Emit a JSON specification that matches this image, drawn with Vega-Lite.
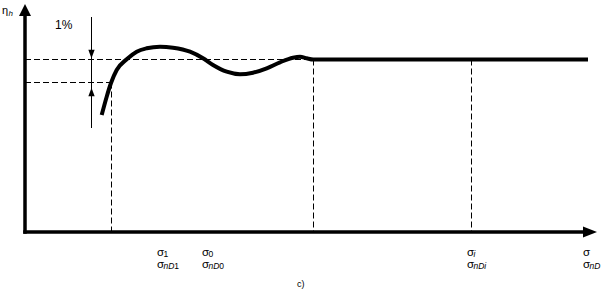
{
  "$schema": "https://vega.github.io/schema/vega-lite/v6.json",
  "width": 606,
  "height": 291,
  "autosize": {"type": "fit", "contains": "padding"},
  "padding": 0,
  "background": "white",
  "config": {"view": {"stroke": null}, "mark": {"color": "black"}, "text": {"font": "Liberation Sans", "fill": "black", "align": "left", "baseline": "alphabetic"}},
  "datasets": {
    "curve": [
      {"x": 101.7, "v": 176}, {"x": 106.7, "v": 194.3}, {"x": 111, "v": 208}, {"x": 116.7, "v": 221},
      {"x": 126.7, "v": 231.7}, {"x": 136.7, "v": 239.3}, {"x": 146.7, "v": 242.7}, {"x": 160, "v": 244.3},
      {"x": 173, "v": 243.3}, {"x": 190, "v": 239.3}, {"x": 203, "v": 232.7}, {"x": 213, "v": 226},
      {"x": 226.7, "v": 219.3}, {"x": 240, "v": 216.7}, {"x": 253, "v": 218.3}, {"x": 266.7, "v": 222.7},
      {"x": 280, "v": 228.7}, {"x": 293, "v": 233.3}, {"x": 300, "v": 234.3}, {"x": 306.7, "v": 232.7},
      {"x": 313.3, "v": 231.5}, {"x": 588, "v": 231.5}
    ],
    "axes": [
      {"x": 25, "v": 59, "x2": 25, "v2": 276},
      {"x": 25, "v": 59, "x2": 584, "v2": 59}
    ],
    "dashed": [
      {"x": 25, "v": 231.5, "x2": 313.5, "v2": 231.5},
      {"x": 25, "v": 208.5, "x2": 111.5, "v2": 208.5},
      {"x": 111.5, "v": 208.5, "x2": 111.5, "v2": 59},
      {"x": 313.5, "v": 231.5, "x2": 313.5, "v2": 59},
      {"x": 471.5, "v": 231.5, "x2": 471.5, "v2": 59}
    ],
    "labels": [
      {"x": 157, "v": 35, "ital": "", "dig": "1", "row": 1},
      {"x": 157, "v": 23.5, "ital": "nD", "dig": "1", "row": 2},
      {"x": 202, "v": 35, "ital": "", "dig": "0", "row": 1},
      {"x": 202, "v": 23.5, "ital": "nD", "dig": "0", "row": 2},
      {"x": 467, "v": 35, "ital": "i", "dig": "", "row": 1},
      {"x": 467, "v": 23.5, "ital": "nDi", "dig": "", "row": 2},
      {"x": 583, "v": 35, "ital": "", "dig": "", "row": 1},
      {"x": 583, "v": 23.5, "ital": "nD", "dig": "", "row": 2}
    ]
  },
  "encoding": {
    "x": {"field": "x", "type": "quantitative", "scale": {"domain": [0, 606], "nice": false, "zero": false}, "axis": null},
    "y": {"field": "v", "type": "quantitative", "scale": {"domain": [0, 291], "nice": false, "zero": false}, "axis": null}
  },
  "layer": [
    {
      "data": {"name": "dashed"},
      "mark": {"type": "rule", "color": "black", "strokeWidth": 1, "strokeDash": [6, 3]},
      "encoding": {"x2": {"field": "x2"}, "y2": {"field": "v2"}}
    },
    {
      "data": {"name": "axes"},
      "mark": {"type": "rule", "color": "black", "strokeWidth": 3.5, "strokeCap": "square"},
      "encoding": {"x2": {"field": "x2"}, "y2": {"field": "v2"}}
    },
    {
      "data": {"values": [{"x": 91.5, "v": 274, "x2": 91.5, "v2": 163}]},
      "mark": {"type": "rule", "color": "black", "strokeWidth": 1},
      "encoding": {"x2": {"field": "x2"}, "y2": {"field": "v2"}}
    },
    {
      "data": {"values": [{"x": 25, "v": 281}]},
      "mark": {"type": "point", "filled": true, "color": "black", "opacity": 1, "shape": "M0,-1L1,1L-1,1Z", "size": 144, "strokeWidth": 0}
    },
    {
      "data": {"values": [{"x": 590, "v": 59}]},
      "mark": {"type": "point", "filled": true, "color": "black", "opacity": 1, "shape": "M1,0L-1,-0.79L-1,0.79Z", "size": 196, "strokeWidth": 0}
    },
    {
      "data": {"values": [{"x": 91.5, "v": 237}]},
      "mark": {"type": "point", "filled": true, "color": "black", "opacity": 1, "shape": "M0,1L-0.75,-1L0.75,-1Z", "size": 72, "strokeWidth": 0}
    },
    {
      "data": {"values": [{"x": 91.5, "v": 199}]},
      "mark": {"type": "point", "filled": true, "color": "black", "opacity": 1, "shape": "M0,-1L-0.75,1L0.75,1Z", "size": 72, "strokeWidth": 0}
    },
    {
      "data": {"name": "curve"},
      "mark": {"type": "line", "color": "black", "strokeWidth": 4, "interpolate": "monotone"}
    },
    {
      "data": {"name": "labels"},
      "mark": {"type": "text", "fontSize": 11.5, "color": "black"},
      "encoding": {"text": {"value": "σ"}}
    },
    {
      "data": {"name": "labels"},
      "mark": {"type": "text", "fontSize": 8.5, "fontStyle": "italic", "dx": 6.5, "dy": 1, "color": "black"},
      "encoding": {"text": {"field": "ital"}}
    },
    {
      "data": {"name": "labels"},
      "transform": [{"filter": "datum.row == 1"}],
      "mark": {"type": "text", "fontSize": 8.5, "dx": 6.5, "dy": 1, "color": "black"},
      "encoding": {"text": {"field": "dig"}}
    },
    {
      "data": {"name": "labels"},
      "transform": [{"filter": "datum.row == 2"}],
      "mark": {"type": "text", "fontSize": 8.5, "dx": 17.3, "dy": 1, "color": "black"},
      "encoding": {"text": {"field": "dig"}}
    },
    {
      "data": {"values": [{"x": 2, "v": 277, "t": "η"}]},
      "mark": {"type": "text", "fontSize": 11, "color": "black"},
      "encoding": {"text": {"field": "t"}}
    },
    {
      "data": {"values": [{"x": 8.5, "v": 275.5, "t": "h"}]},
      "mark": {"type": "text", "fontSize": 8, "fontStyle": "italic", "color": "black"},
      "encoding": {"text": {"field": "t"}}
    },
    {
      "data": {"values": [{"x": 55, "v": 262, "t": "1%"}]},
      "mark": {"type": "text", "fontSize": 12, "color": "black"},
      "encoding": {"text": {"field": "t"}}
    },
    {
      "data": {"values": [{"x": 297, "v": 4, "t": "c)"}]},
      "mark": {"type": "text", "fontSize": 9, "color": "black"},
      "encoding": {"text": {"field": "t"}}
    }
  ]
}
